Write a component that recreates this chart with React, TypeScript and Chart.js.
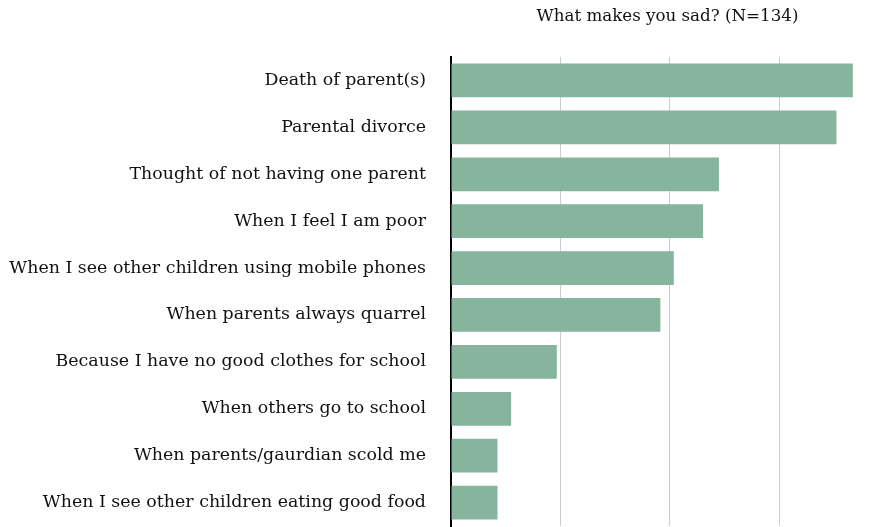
import React, { useEffect, useRef } from "react";
import { Chart, registerables } from "chart.js";

Chart.register(...registerables);

const categories = [
  "Death of parent(s)",
  "Parental divorce",
  "Thought of not having one parent",
  "When I feel I am poor",
  "When I see other children using mobile phones",
  "When parents always quarrel",
  "Because I have no good clothes for school",
  "When others go to school",
  "When parents/gaurdian scold me",
  "When I see other children eating good food",
];

const values = [73.5, 70.5, 49.0, 46.1, 40.75, 38.3, 19.35, 11.0, 8.5, 8.5];

const titleText = "What makes you sad? (N=134)";

export default function App() {
  const ref = useRef<HTMLCanvasElement | null>(null);

  useEffect(() => {
    document.body.style.margin = "0";
    const canvas = ref.current;
    if (!canvas) return;
    const font = "'DejaVu Serif', serif";
    const chart = new Chart(canvas, {
      type: "bar",
      data: {
        labels: categories,
        datasets: [
          {
            data: values,
            backgroundColor: "#86b49c",
            borderWidth: 0,
            categoryPercentage: 1,
            barPercentage: 0.72,
          },
        ],
      },
      options: {
        indexAxis: "y",
        animation: false,
        responsive: false,
        devicePixelRatio: 1,
        layout: { padding: { left: 0, right: 0, top: 0, bottom: 1 } },
        plugins: {
          legend: { display: false },
          tooltip: { enabled: false },
          title: {
            display: true,
            text: titleText,
            fullSize: false,
            color: "#111",
            font: { family: font, size: 16.7, weight: "normal" },
            padding: { top: 7, bottom: 30 },
          },
        },
        scales: {
          x: {
            min: 0,
            max: 79.2,
            afterFit: (scale: any) => {
              scale.height = 0;
              scale.paddingLeft = 0;
              scale.paddingRight = 0;
            },
            ticks: { display: false, stepSize: 20 },
            grid: { color: "#cccccc", lineWidth: 1, drawTicks: false },
            border: { display: false },
          },
          y: {
            afterFit: (scale: any) => {
              scale.width = 451;
              scale.paddingTop = 0;
              scale.paddingBottom = 0;
            },
            ticks: {
              color: "#111",
              font: { family: font, size: 17.4 },
              padding: 25,
            },
            grid: { display: false, drawTicks: false },
            border: { display: true, color: "#000", width: 2 },
          },
        },
      },
    });
    return () => chart.destroy();
  }, []);

  return (
    <div style={{ width: 884, height: 527 }}>
      <canvas ref={ref} width={884} height={527} style={{ display: "block" }} />
    </div>
  );
}
